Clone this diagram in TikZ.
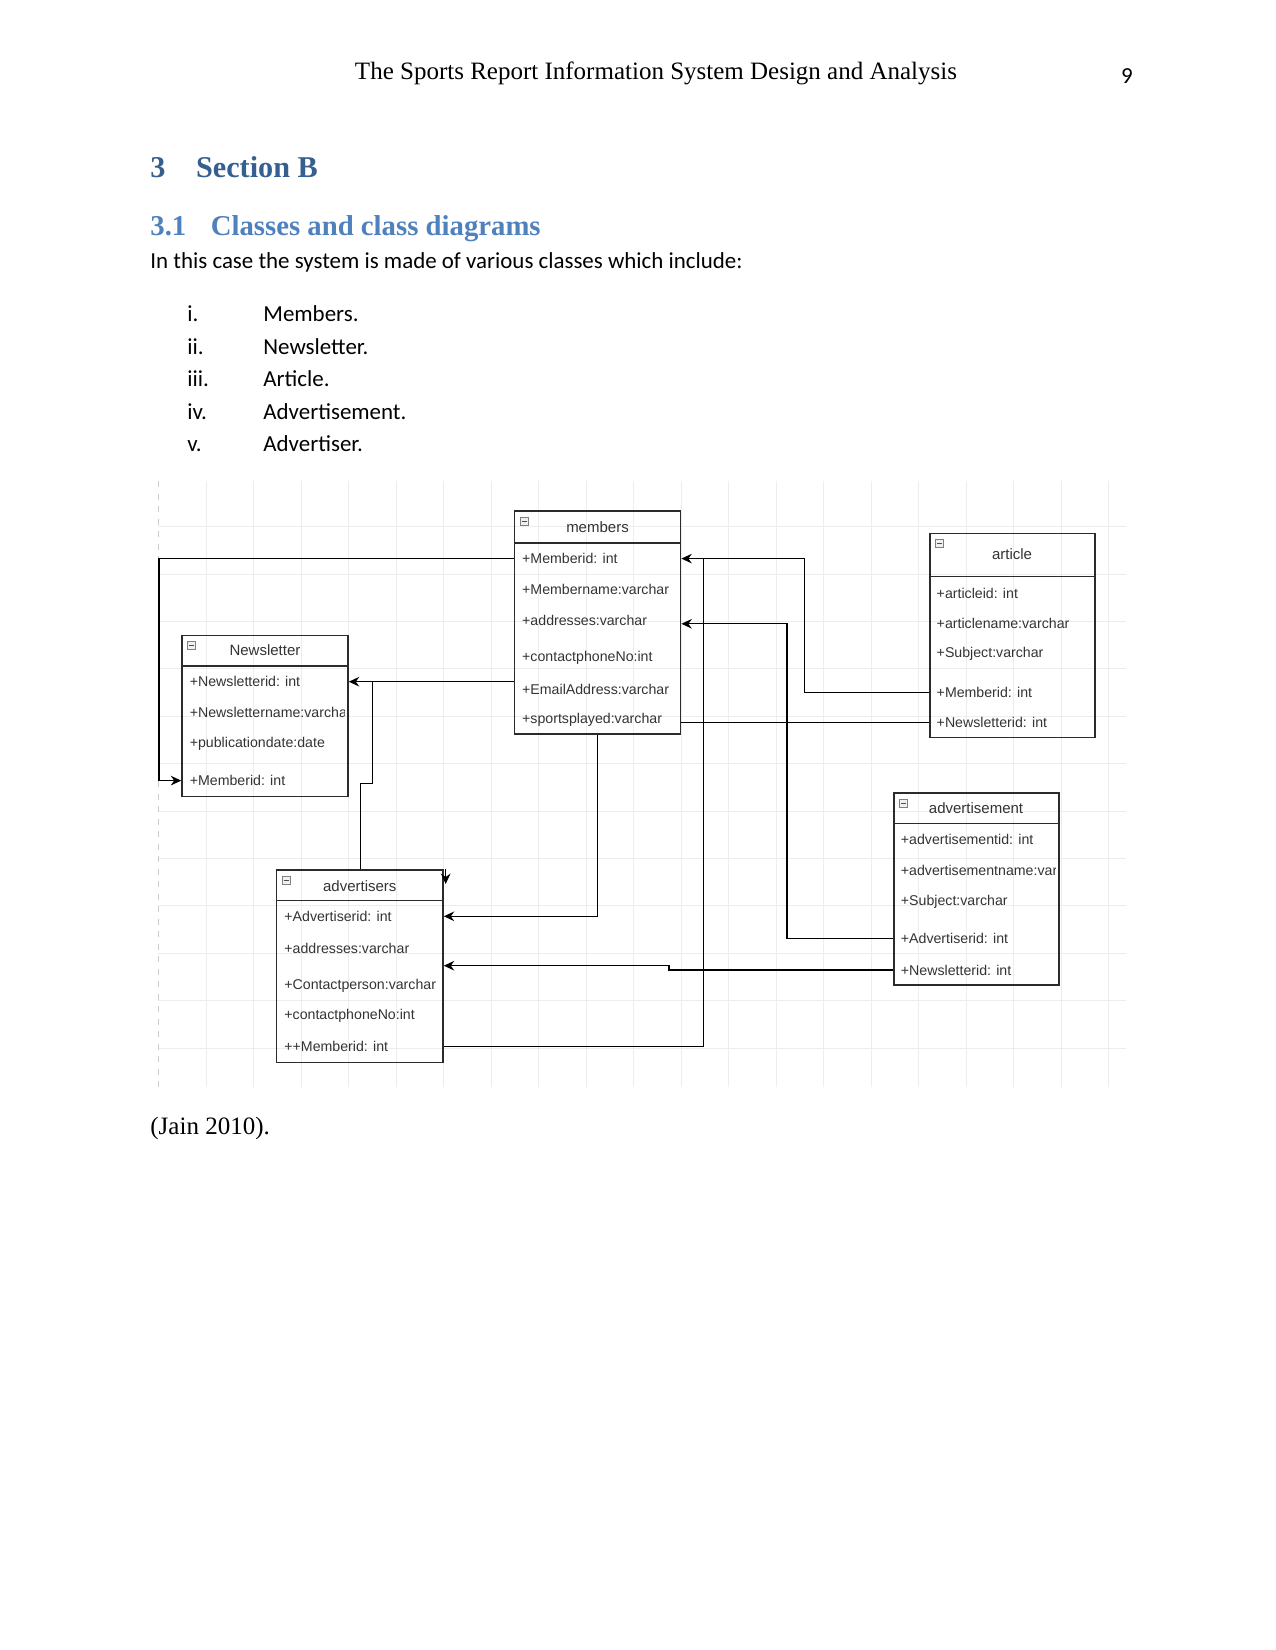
\documentclass[tikz,border=0pt]{standalone}
\usepackage{fontspec}
\setmainfont{Liberation Serif}
\newfontfamily\bodyfont{Carlito}
\newfontfamily\umlfont{Liberation Sans}
\usetikzlibrary{arrows.meta,fit}
\definecolor{headone}{HTML}{365F91}
\definecolor{headtwo}{HTML}{4F81BD}
\definecolor{umltext}{HTML}{333333}
\definecolor{umlline}{HTML}{2B2B2B}
\definecolor{gridline}{HTML}{EDEDED}

\tikzset{
  classbox/.style={draw=umlline,line width=0.75pt,inner sep=0pt},
  divider/.style={draw=umlline,line width=0.75pt},
  rowtext/.style={anchor=west,inner sep=0pt,text=umltext,font=\umlfont\fontsize{6.8}{8}\selectfont},
  titletext/.style={inner sep=0pt,text=umltext,font=\umlfont\fontsize{7.2}{8}\selectfont},
  iconbox/.style={draw=gray,fill=gray!12,minimum size=4pt,inner sep=0pt,line width=0.4pt,
    path picture={\draw[gray!60!black,line width=0.5pt] ([xshift=0.9pt]path picture bounding box.west) -- ([xshift=-0.9pt]path picture bounding box.east);}},
  conn/.style={draw=black,line width=0.6pt},
  arr/.style={conn,-{Stealth[length=5pt,width=4.6pt]}},
  pagetext/.style={inner sep=0pt,font=\fontsize{12}{14}\selectfont},
  listtext/.style={anchor=base west,inner sep=0pt,font=\bodyfont\fontsize{11}{13}\selectfont}
}

\begin{document}
\begin{tikzpicture}[x=0.48pt,y=-0.48pt]
\useasboundingbox (0,0) rectangle (1275,1650);

\node[pagetext,anchor=base] (head) at (656,80) {The Sports Report Information System Design and Analysis};
\node[listtext,anchor=base] (pageno) at (1127,83.5) {9};

\node[anchor=base west,inner sep=0pt,text=headone,font=\bfseries\fontsize{14.5}{17}\selectfont] (secnum) at (150,177.8) {3};
\node[anchor=base west,inner sep=0pt,text=headone,font=\bfseries\fontsize{14.5}{17}\selectfont] (sec) at (195.7,177.8) {Section B};
\node[anchor=base west,inner sep=0pt,text=headtwo,font=\bfseries\fontsize{13.8}{16}\selectfont] (subnum) at (150,235.6) {3.1};
\node[anchor=base west,inner sep=0pt,text=headtwo,font=\bfseries\fontsize{13.8}{16}\selectfont] (sub) at (210.4,235.6) {Classes and class diagrams};
\node[listtext] (intro) at (150,268.5) {In this case the system is made of various classes which include:};

\foreach \i/\yy/\num/\txt in {1/322/i./Members.,2/354.5/ii./Newsletter.,3/387/iii./Article.,4/419.5/iv./Advertisement.,5/452/v./Advertiser.}{
  \node[listtext] (num-\i) at (187,\yy) {\num};
  \node[listtext] (item-\i) at (263,\yy) {\txt};
}

% grid behind the diagram
\foreach \i in {0,...,19}
  \draw[gridline,line width=0.45pt] ({206+47.5*\i},481) -- ({206+47.5*\i},1087);
\foreach \i in {0,...,11}
  \draw[gridline,line width=0.45pt] (158,{526.7+47.4*\i}) -- (1126,{526.7+47.4*\i});
\draw[gray!40,dashed,line width=0.45pt] (158,481) -- (158,1087);

% members
\node[classbox,fit={(514.5,511) (680.6,734)}] (mem) {};
\draw[divider] (514.5,543) -- (680.6,543);
\node[iconbox] (mem-icon) at ([shift={(10.5,11)}]mem.north west) {};
\node[titletext] (mem-title) at (597.5,527) {members};
\foreach \i/\yy/\txt in {1/558.6/{+Memberid: int},2/589.1/{+Membername:varchar},3/620.7/{+addresses:varchar},4/657.5/{+contactphoneNo:int},5/689.1/{+EmailAddress:varchar},6/719.6/{+sportsplayed:varchar}}
  \node[rowtext] (mem-\i) at (521.8,\yy) {\txt};

% Newsletter
\node[classbox,fit={(182,635.4) (348,796.4)}] (news) {};
\draw[divider] (182,666) -- (348,666);
\node[iconbox] (news-icon) at ([shift={(10.5,11)}]news.north west) {};
\node[titletext] (news-title) at (265,650) {Newsletter};
\begin{scope}
\clip (182,666) rectangle (344,796.4);
\foreach \i/\yy/\txt in {1/681.7/{+Newsletterid: int},2/712.2/{+Newslettername:varchar},3/743.8/{+publicationdate:date},4/780.6/{+Memberid: int}}
  \node[rowtext] (news-\i) at (189.4,\yy) {\txt};
\end{scope}

% article
\node[classbox,fit={(930,533.4) (1095,737.5)}] (art) {};
\draw[divider] (930,576.5) -- (1095,576.5);
\node[iconbox] (art-icon) at ([shift={(10.5,11)}]art.north west) {};
\node[titletext] (art-title) at (1012,554.4) {article};
\foreach \i/\yy/\txt in {1/593.3/{+articleid: int},2/623.8/{+articlename:varchar},3/654.3/{+Subject:varchar},4/692.2/{+Memberid: int},5/722.7/{+Newsletterid: int}}
  \node[rowtext] (art-\i) at (936.3,\yy) {\txt};

% advertisement
\node[classbox,fit={(894,793) (1059,985)}] (advt) {};
\draw[divider] (894,823.7) -- (1059,823.7);
\node[iconbox] (advt-icon) at ([shift={(10.5,11)}]advt.north west) {};
\node[titletext] (advt-title) at (976,808) {advertisement};
\begin{scope}
\clip (894,823.7) rectangle (1055,985);
\foreach \i/\yy/\txt in {1/839.5/{+advertisementid: int},2/870/{+advertisementname:varchar},3/901.6/{+Subject:varchar},4/938.4/{+Advertiserid: int},5/970/{+Newsletterid: int}}
  \node[rowtext] (advt-\i) at (900.5,\yy) {\txt};
\end{scope}

% advertisers
\node[classbox,fit={(276.7,870) (443,1062.5)}] (advr) {};
\draw[divider] (276.7,900.5) -- (443,900.5);
\node[iconbox] (advr-icon) at ([shift={(10.5,11)}]advr.north west) {};
\node[titletext] (advr-title) at (359.8,885.8) {advertisers};
\foreach \i/\yy/\txt in {1/916.3/{+Advertiserid: int},2/948/{+addresses:varchar},3/985.7/{+Contactperson:varchar},4/1016.2/{+contactphoneNo:int},5/1046.7/{++Memberid: int}}
  \node[rowtext] (advr-\i) at (284,\yy) {\txt};

% bends of the connectors
\coordinate (left-bend) at (159,558.6);
\coordinate (news-jn) at (372.4,681.7);
\coordinate (news-step) at (360.8,783.3);
\coordinate (art-bend) at (804.6,692.2);
\coordinate (mid-line) at (703.8,558.6);
\coordinate (advt-bend) at (787,623.8);
\coordinate (advt-step) at (669,965.7);
\coordinate (stub) at (445.7,869);

\draw[arr] (mem.west |- mem-1) -- (left-bend) |- (news.west |- news-4);
\draw[arr] (mem.west |- news-1) -- (news.east |- news-1);
\draw[conn] (news-jn) |- (news-step) -- (news-step |- advr.north);
\draw[arr] (art.west |- art-4) -- (art-bend) |- (mem.east |- mem-1);
\draw[conn] (art.west |- art-5) -- (mem.east |- art-5);
\draw[conn] (advr.east |- advr-5) -| (mid-line);
\draw[arr] (mem.south) |- (advr.east |- advr-1);
\draw[arr] (advt.west |- advt-4) -| (advt-bend) -- (mem.east |- advt-bend);
\draw[arr] (advt.west |- advt-5) -| (advt-step) -- (advr.east |- advt-step);
\draw[arr] (stub) -- ++(0,15);

\node[pagetext,anchor=base west] (cite) at (150,1134) {(Jain 2010).};
\end{tikzpicture}
\end{document}
